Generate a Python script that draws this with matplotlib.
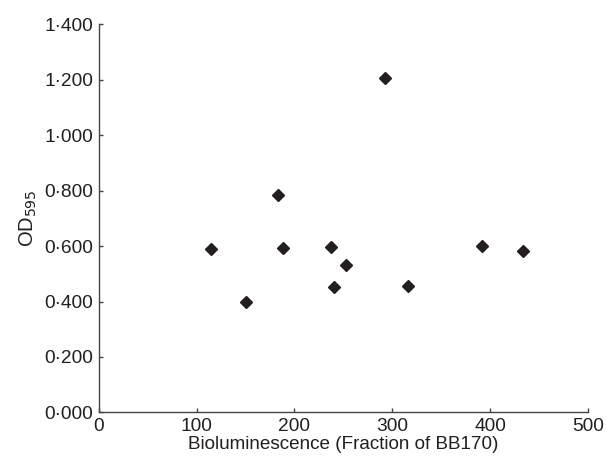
import matplotlib
matplotlib.use("Agg")
import matplotlib.pyplot as plt
from matplotlib.ticker import FuncFormatter

plt.rcParams["font.family"] = ["Liberation Sans", "DejaVu Sans"]

# Data
biolum = [115, 151, 183, 188, 237, 241, 253, 293, 316, 392, 434]
od595 = [0.588, 0.397, 0.784, 0.593, 0.595, 0.451, 0.530, 1.205, 0.457, 0.601, 0.583]

x_ticks = [0, 100, 200, 300, 400, 500]
y_ticks = [0.0, 0.2, 0.4, 0.6, 0.8, 1.0, 1.2, 1.4]

INK = "#231f20"

fig = plt.figure(figsize=(6.06, 4.66), dpi=100)
ax = fig.add_axes([0.163, 0.115, 0.807, 0.833])

ax.plot(biolum, od595, linestyle="none", marker="D", ms=6.2, color=INK)

ax.set_xlim(0, 500)
ax.set_ylim(0, 1.4)
ax.set_xticks(x_ticks)
ax.set_yticks(y_ticks)
ax.yaxis.set_major_formatter(FuncFormatter(lambda v, p: f"{v:.3f}".replace(".", "\u00b7")))

for side in ("top", "right"):
    ax.spines[side].set_visible(False)
for side in ("left", "bottom"):
    ax.spines[side].set_color("#444444")
    ax.spines[side].set_linewidth(1.0)

ax.tick_params(direction="in", length=3, width=1, color="#444444",
               labelsize=13.8, labelcolor=INK, pad=4)

ax.set_xlabel("Bioluminescence (Fraction of BB170)", fontsize=13.6, color=INK, labelpad=1)
ax.set_ylabel("OD$_{595}$", fontsize=14.5, color=INK, labelpad=4)

fig.savefig("out.png", dpi=100, facecolor="white")
